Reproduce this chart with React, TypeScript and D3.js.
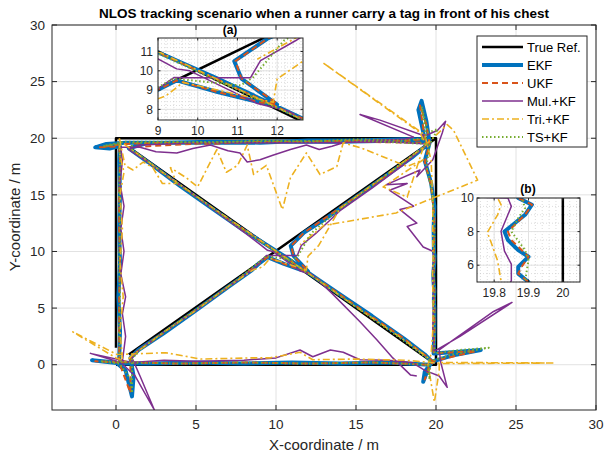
import * as d3 from "d3";

type P = [number, number] | null;

const seriesNames = ["True Ref.", "EKF", "UKF", "Mul.+KF", "Tri.+KF", "TS+KF"];
const mainTicks = [0, 5, 10, 15, 20, 25, 30];
const insetATicksX = [9, 10, 11, 12];
const insetATicksY = [8, 9, 10, 11];
const insetBTicksX = [19.8, 19.9, 20];
const insetBTicksY = [6, 8, 10];

// reference path (null = pen up)
const trueRef: P[] = [
  [0, 1.5], [0, 20], [20, 20], [20, 0], [0, 0], null,
  [0.8, 0.9], [20, 20], null,
  [1, 19], [19.7, 0.3],
];

const ekf: P[] = [
  [0.2, 0.4], [0.25, 3], [0.15, 6], [0.25, 9], [0.2, 12], [0.25, 15], [0.2, 18], [0.25, 19.3],
  [-0.4, 19.1], [-1.3, 19.2], [-0.6, 19.5], [0.6, 19.6], [3, 19.6], [6, 19.7], [9, 19.6],
  [12, 19.8], [15, 19.8], [18, 19.9], [19.3, 19.9], [18.9, 22.5], [19.1, 23.3], [19.4, 21.5],
  [19.6, 19.6], [19.3, 18], [19.7, 16], [19.9, 14], [19.85, 12], [19.87, 10], [19.91, 9.6],
  [19.89, 9], [19.83, 8], [19.84, 7.5], [19.87, 6.9], [19.9, 6.5], [19.87, 5.9], [19.87, 5.5],
  [19.9, 5], [19.9, 3], [19.85, 1], [21, 1.1], [22.8, 1.3], [21, 0.8], [19.8, 0.3], [19.3, -0.6],
  [19.2, -1.5], [19.6, 0], [17, 0.2], [14, 0.1], [11, 0.2], [8, 0.1], [5, 0.2], [2, 0.1],
  [0.3, 0.1], [-1.5, 0.4], [0, 0.2], [0.6, -0.5], [1, -2.8], [1.1, -1], [0.9, 0.6], [1.4, 1.3],
  [3, 2.8], [5, 4.8], [7, 6.85], [8.5, 8.35], [8.97, 8.98], [9.47, 9.5], [10.5, 8.9], [11.6, 8.35],
  [12, 8.25], [11.1, 9.6], [10.92, 10.5], [11.75, 11.66], [13, 12.8], [15, 14.8], [17, 16.8],
  [18.5, 18.3], [19.6, 19.6], [18, 19.8], [14, 19.7], [10, 19.7], [6, 19.6], [2, 19.6], [0.8, 19.1],
  [2, 17.9], [4, 15.8], [6, 13.8], [8, 11.85], [9, 10.96], [10.5, 9.6], [12.67, 7.5], [14, 6.2],
  [16, 4.3], [18, 2.3], [19.3, 0.9], [19.8, 0.2],
];

const ukf: P[] = [
  [0.2, 0.2], [0.2, 3], [0.2, 6], [0.25, 9], [0.2, 12], [0.2, 15], [0.25, 18], [0.2, 19.3],
  [-1, 19.2], [0.5, 19.5], [3, 19.6], [6, 19.5], [9, 19.7], [12, 19.7], [15, 19.8], [18, 19.8],
  [19.3, 19.9], [19, 22.9], [19.4, 21.2], [19.6, 19.5], [19.3, 17.9], [19.7, 15.8], [19.9, 13],
  [19.87, 10], [19.91, 9.6], [19.89, 9], [19.84, 8], [19.85, 7.5], [19.88, 6.9], [19.9, 6.5],
  [19.88, 5.9], [19.87, 5.5], [19.9, 5], [19.9, 3], [19.85, 1], [22.5, 1.2], [19.8, 0.3],
  [19.3, -1.3], [19.6, 0], [16, 0.2], [12, 0.1], [8, 0.2], [4, 0.1], [1, 0.2], [-1.3, 0.3],
  [0.2, 0.2], [0.9, -2.5], [0.9, 0.6], [1.4, 1.25], [4, 3.85], [7, 6.85], [8.97, 8.98], [9.47, 9.5],
  [10.5, 8.9], [11.6, 8.35], [12, 8.3], [11.1, 9.6], [10.95, 10.5], [11.75, 11.66], [14, 13.85],
  [17, 16.8], [19.6, 19.6], [14, 19.7], [6, 19.6], [0.8, 19.2], [3, 16.85], [6, 13.85], [9, 10.95],
  [12.67, 7.5], [15, 5.2], [18, 2.3], [19.8, 0.3],
];

const mulKf: P[] = [
  [0.4, 0.3], [0.6, 2.5], [0.4, 4.5], [0.6, 6], [0.3, 8], [0.5, 10], [0.3, 12], [0.5, 14],
  [0.25, 16], [0.4, 18], [0.3, 19.2], [1.5, 19.2], [2.5, 18.8], [3.8, 18.7], [4.8, 19.1],
  [5.9, 19.4], [7, 18.9], [7.75, 18.7], [8.2, 17.9], [9, 18.1], [9.8, 18.5], [10.9, 19],
  [11.9, 19.4], [12.7, 19], [13.5, 19.3], [14.2, 19.6], [16, 19.8], [18, 19.9], [18.6, 20.1],
  [15.25, 22.1], [16.5, 21.6], [19.3, 20.2], [20.1, 20.7], [20.6, 21.5], [20.4, 20.5],
  [19.8, 18.1], [18.8, 16.6], [19, 17.2], [16.9, 15.9], [18.2, 16], [17.1, 15.4], [18.6, 14],
  [17.75, 13.7], [18.8, 12.5], [18.2, 12.2], [19.2, 10.4], [19.84, 10], [19.85, 9.5],
  [19.82, 8.02], [19.83, 6.84], [19.85, 6.06], [19.85, 5.08], [19.8, 3], [19.9, 1.2],
  [21.5, 2.5], [24.75, 5.5], [23.6, 4.7], [20.2, 1.3], [20.3, 0.2], [20.7, -2], [20.2, -1],
  [19.3, -0.5], [18.5, 0.2], [17, 0.4], [15.25, 0.44], [14.2, 1.1], [13.4, 1.3], [12.3, 0.7],
  [11.5, 1.3], [10, 0.6], [8, 0.4], [5, 0.3], [3, 0.4], [1, 0.2], [-1.6, 1], [0.3, 0.2],
  [1.2, -1], [2.4, -4], [1.5, -1], [1, 0.6], [1.5, 1.4], [3, 2.9], [5, 4.8], [7, 6.85], [8.5, 8.35],
  [9.4, 9.65], [9.8, 9.64], [11.33, 9.64], [11.58, 10.53], [12.47, 11.57], [14, 13.6],
  [16, 15.6], [18, 17.7], [19.5, 19.5], [17, 19.7], [13, 19.6], [9, 19.6], [5, 19.6],
  [1.5, 19.4], [0.8, 19], [2, 17.9], [4, 15.9], [6, 13.8], [8, 11.7], [9, 10.62], [9.47, 10.1],
  [9.8, 10], [10.5, 9.3], [11.5, 8.3], [12.3, 7.9], [13.5, 6.3], [15.25, 3.8], [16.3, 2.2],
  [17.3, 0.6], [18.4, -0.9], [18.8, -1],
];

const triKf: P[] = [
  [0.4, 0.5], [0.25, 3], [0.45, 6], [0.25, 9], [0.4, 12], [0.25, 15], [0.5, 17], [0.25, 18.5],
  [0.2, 20.1], [0.56, 17.6], [1.06, 17.2], [1.7, 17.9], [2.3, 17.4], [2.9, 16], [3.8, 16],
  [3.4, 17.4], [4.4, 16.5], [5.1, 15.7], [6.3, 19], [6.9, 17], [7.6, 17.6], [8.2, 19.4],
  [8.6, 16.8], [9.4, 17.6], [10.4, 13.7], [10.9, 16.5], [11.9, 18.7], [12.75, 16.8],
  [13.8, 17.5], [14.2, 19.6], [15.4, 19.1], [18.2, 17.5], [19.2, 18.1], [16.7, 15.7],
  [18.2, 14.8], [19.3, 19.6], [19, 20.5], [12.9, 26.7], [19.3, 20.3], [19.7, 18],
  [19.8, 14], [19.8, 12], [19.81, 10], [19.82, 9.6], [19.81, 9], [19.78, 7.94], [19.79, 7.43],
  [19.81, 6.26], [19.82, 5.06], [19.8, 3], [19.7, 1], [19.5, 0], [19.9, -3.3], [20.2, -0.5],
  [20.2, 0.2], [27.3, 0.15], [20.5, 0.1], [18, 0.4], [15, 0.5], [12.3, 0.44], [11.5, 1.1],
  [9.6, 0.6], [8.4, 0.6], [5.3, 0.5], [3.1, 1.06], [0.06, 0.9], [-2.7, 2.9], [0, 0.6],
  [0.6, 0.3], [1, 0.8], [3, 2.9], [5, 4.8], [7, 6.9], [8.6, 8.4], [9, 8.55], [9.2, 8.7],
  [9.63, 9.4], [10.5, 9], [11.9, 8.37], [12, 9.58], [12.67, 10.53], [14, 13.8], [17, 16.9],
  [19.2, 19.2], [20.7, 21.2], [21.1, 20.7], [22.6, 16.3], [17.5, 13.4], [13, 12.3],
  [12.2, 11.4], [11.5, 10.6], null,
  [0.5, 19.5], [3, 16.9], [6, 13.9], [9, 11], [12, 8.1], [15, 5.1], [18, 2.2], [19.6, 0.5],
];

const tsKf: P[] = [
  [0.25, 0.3], [0.2, 3], [0.25, 6], [0.2, 9], [0.25, 12], [0.2, 15], [0.25, 18], [0.2, 19.5],
  [-0.8, 19.3], [0.5, 19.7], [3, 19.7], [6, 19.6], [9, 19.8], [12, 19.7], [15, 19.9],
  [18, 19.8], [19.4, 20], [19.1, 22.8], [19.5, 20.5], [20.1, 20.8], [19.6, 19.4], [19.4, 17.5],
  [19.8, 15], [19.9, 12], [19.88, 10], [19.89, 9.4], [19.87, 8.8], [19.85, 8], [19.89, 6.9],
  [19.9, 6.3], [19.89, 5.06], [19.9, 3], [19.9, 1], [21.5, 1.3], [23.3, 1.5], [21, 0.9],
  [19.6, 0.3], [19.6, -1.3], [19.5, 0], [16, 0.2], [12, 0.1], [8, 0.2], [4, 0.1], [1, 0.2],
  [-1, 0.3], [0.2, 0.1], [0.9, -1.2], [1, -2.5], [1, 0.5], [1.5, 1.35], [4, 3.9], [7, 6.85],
  [9.4, 9.6], [11.08, 9.24], [11.4, 9.67], [12.17, 11.57], [14, 13.8], [17, 16.85],
  [19.5, 19.5], [15, 19.8], [8, 19.7], [1, 19.6], [1, 19], [4, 15.85], [7, 12.85], [9, 10.9],
  [12.6, 7.5], [15, 5.1], [18, 2.1], [19.6, 0.4],
];

const seriesData = [trueRef, ekf, ukf, mulKf, triKf, tsKf];
const styles = [
  { color: "#000000", width: 2.5, dash: undefined as string | undefined },
  { color: "#0072BD", width: 4, dash: undefined },
  { color: "#D95319", width: 2, dash: "6,4" },
  { color: "#7E2F8E", width: 1.5, dash: undefined },
  { color: "#EDB120", width: 1.6, dash: "7,3,2,3" },
  { color: "#77AC30", width: 2, dash: "1.5,2.5" },
];

const AX = "#262626";
const GRID = "#e2e2e2";
const FONT = "'Liberation Sans', Arial, Helvetica, sans-serif";

type PanelProps = {
  id: string;
  xs: d3.ScaleLinear<number, number>;
  ys: d3.ScaleLinear<number, number>;
  xt: number[];
  yt: number[];
  minorX?: number[];
  minorY?: number[];
  fs: number;
  tl: number;
  xLabY: number;
  yLabX: number;
};

function Panel({ id, xs, ys, xt, yt, minorX, minorY, fs, tl, xLabY, yLabX }: PanelProps) {
  const [x0, x1] = xs.range();
  const [y1, y0] = ys.range();
  const line = d3
    .line<P>()
    .defined((d) => d !== null)
    .x((d) => xs((d as [number, number])[0]))
    .y((d) => ys((d as [number, number])[1]));
  return (
    <g>
      <defs>
        <clipPath id={id}>
          <rect x={x0} y={y0} width={x1 - x0} height={y1 - y0} />
        </clipPath>
      </defs>
      <rect x={x0} y={y0} width={x1 - x0} height={y1 - y0} fill="#fff" />
      {(minorX || []).map((v, i) => (
        <line key={"mx" + i} x1={xs(v)} x2={xs(v)} y1={y0} y2={y1} stroke="#c4c4c4" strokeWidth={0.6} strokeDasharray="1,2" />
      ))}
      {(minorY || []).map((v, i) => (
        <line key={"my" + i} y1={ys(v)} y2={ys(v)} x1={x0} x2={x1} stroke="#c4c4c4" strokeWidth={0.6} strokeDasharray="1,2" />
      ))}
      {xt.map((v) => (
        <line key={"gx" + v} x1={xs(v)} x2={xs(v)} y1={y0} y2={y1} stroke={GRID} strokeWidth={1} />
      ))}
      {yt.map((v) => (
        <line key={"gy" + v} y1={ys(v)} y2={ys(v)} x1={x0} x2={x1} stroke={GRID} strokeWidth={1} />
      ))}
      <g clipPath={`url(#${id})`}>
        {seriesData.map((d, i) => (
          <path
            key={i}
            d={line(d) || ""}
            fill="none"
            stroke={styles[i].color}
            strokeWidth={styles[i].width}
            strokeDasharray={styles[i].dash}
            strokeLinejoin="round"
          />
        ))}
      </g>
      <rect x={x0} y={y0} width={x1 - x0} height={y1 - y0} fill="none" stroke={AX} strokeWidth={1} />
      {xt.map((v) => (
        <g key={"tx" + v}>
          <line x1={xs(v)} x2={xs(v)} y1={y1} y2={y1 - tl} stroke={AX} />
          <line x1={xs(v)} x2={xs(v)} y1={y0} y2={y0 + tl} stroke={AX} />
          <text x={xs(v)} y={xLabY} textAnchor="middle" fontSize={fs} fill={AX} fontFamily={FONT}>
            {v}
          </text>
        </g>
      ))}
      {yt.map((v) => (
        <g key={"ty" + v}>
          <line x1={x0} x2={x0 + tl} y1={ys(v)} y2={ys(v)} stroke={AX} />
          <line x1={x1} x2={x1 - tl} y1={ys(v)} y2={ys(v)} stroke={AX} />
          <text x={yLabX} y={ys(v)} dy="0.35em" textAnchor="end" fontSize={fs} fill={AX} fontFamily={FONT}>
            {v}
          </text>
        </g>
      ))}
    </g>
  );
}

export default function App() {
  const xMain = d3.scaleLinear().domain([-4, 30]).range([52, 596]);
  const yMain = d3.scaleLinear().domain([-4, 30]).range([410, 25]);
  const xA = d3.scaleLinear().domain([9, 12.65]).range([158, 303]);
  const yA = d3.scaleLinear().domain([7.45, 11.7]).range([120, 38]);
  const xB = d3.scaleLinear().domain([19.75, 20.05]).range([477, 580]);
  const yB = d3.scaleLinear().domain([5, 10]).range([282, 198]);

  const minorAX = d3.range(9, 12.65, 0.2);
  const minorAY = d3.range(7.6, 11.7, 0.2);
  const minorBX = d3.range(19.76, 20.05, 0.02);
  const minorBY = d3.range(5, 10, 0.5);

  const leg = { x: 477, y: 36, w: 110, h: 111 };
  return (
    <svg width={605} height={456} style={{ position: "absolute", left: 0, top: 0, background: "#fff" }}>
      <rect width={605} height={456} fill="#fff" />
      <Panel id="clipMain" xs={xMain} ys={yMain} xt={mainTicks} yt={mainTicks} fs={13.5} tl={5} xLabY={429} yLabX={45} />
      <text x={324} y={18} textAnchor="middle" fontWeight="bold" fontSize={13.5} fontFamily={FONT} fill="#000">
        NLOS tracking scenario when a runner carry a tag in front of his chest
      </text>
      <text x={324} y={450} textAnchor="middle" fontSize={15} fontFamily={FONT} fill={AX}>
        X-coordinate / m
      </text>
      <text transform="translate(20,217) rotate(-90)" textAnchor="middle" fontSize={15} fontFamily={FONT} fill={AX}>
        Y-coordinate / m
      </text>

      <g>
        <rect x={leg.x} y={leg.y} width={leg.w} height={leg.h} fill="#fff" stroke={AX} strokeWidth={1} />
        {seriesNames.map((n, i) => {
          const yy = 47 + i * 18;
          return (
            <g key={n}>
              <line x1={482} x2={523} y1={yy} y2={yy} stroke={styles[i].color} strokeWidth={styles[i].width} strokeDasharray={styles[i].dash} />
              <text x={527} y={yy} dy="0.35em" fontSize={13} fontFamily={FONT} fill="#000">
                {n}
              </text>
            </g>
          );
        })}
      </g>

      <Panel id="clipA" xs={xA} ys={yA} xt={insetATicksX} yt={insetATicksY} minorX={minorAX} minorY={minorAY} fs={12} tl={2.5} xLabY={135} yLabX={153} />
      <text x={230} y={34} textAnchor="middle" fontWeight="bold" fontSize={12} fontFamily={FONT} fill="#000">
        (a)
      </text>
      <Panel id="clipB" xs={xB} ys={yB} xt={insetBTicksX} yt={insetBTicksY} minorX={minorBX} minorY={minorBY} fs={12} tl={2.5} xLabY={297} yLabX={474} />
      <text x={528} y={193} textAnchor="middle" fontWeight="bold" fontSize={12} fontFamily={FONT} fill="#000">
        (b)
      </text>
    </svg>
  );
}
